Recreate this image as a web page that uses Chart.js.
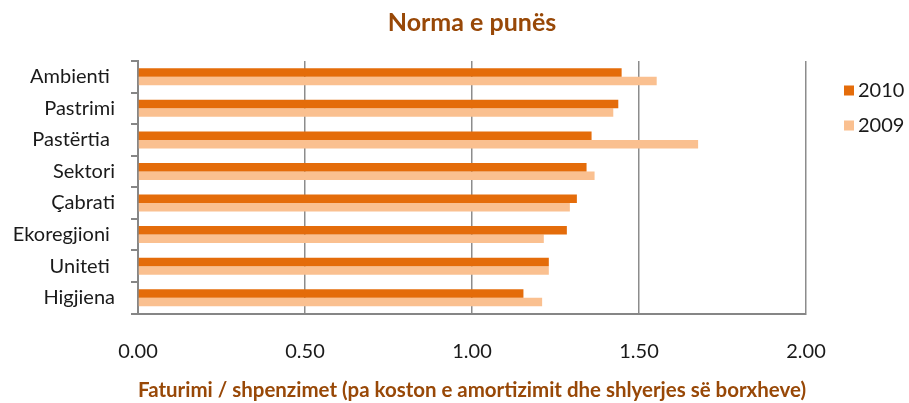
<!DOCTYPE html>
<html>
<head>
<meta charset="utf-8">
<script src="https://cdn.jsdelivr.net/npm/chart.js@4.4.1/dist/chart.umd.min.js"></script>
<style>
    body { margin: 0; background: #ffffff; }
    #wrap { width: 909px; height: 403px; position: relative; }
</style>
</head>
<body>
<div id="wrap"><canvas id="chart-norma"></canvas></div>
<script>
/**
 * Categories, top to bottom.
 * @type {string[]}
 */
const categories = ['Ambienti ', 'Pastrimi', 'Pastërtia ', 'Sektori', 'Çabrati', 'Ekoregjioni ', 'Uniteti ', 'Higjiena'];

const values2010 = [1.448, 1.438, 1.358, 1.343, 1.314, 1.284, 1.230, 1.154];
const values2009 = [1.553, 1.423, 1.677, 1.367, 1.293, 1.215, 1.230, 1.210];

const seriesLabels = ['2010', '2009'];
const xTicks = [0, 0.5, 1, 1.5, 2];

const FONT = 'Lato, "Open Sans", sans-serif';
const BROWN = '#984807';
const AXIS_GREY = '#868686';

/**
 * draws the legend to the right of the plot area
 */
const sideLegend = {
    id: 'sideLegend',
    afterDraw(chart) {
        const ctx = chart.ctx;
        const area = chart.chartArea;
        ctx.save();
        ctx.font = '20px ' + FONT;
        ctx.textBaseline = 'middle';
        ctx.textAlign = 'left';
        chart.data.datasets.forEach(function (ds, i) {
            const y = area.top + 29.5 + i * 35;
            const x = area.right + 38;
            ctx.fillStyle = ds.backgroundColor;
            ctx.fillRect(x, y - 5, 10, 10);
            ctx.fillStyle = '#1a1a1a';
            ctx.fillText(ds.label, x + 14, y);
        });
        ctx.restore();
    }
};

let chart = new Chart(document.getElementById('chart-norma'), {
    type: 'bar',
    data: {
        labels: categories,
        datasets: [{
            label: seriesLabels[0],
            data: values2010,
            backgroundColor: '#E46C0A',
            categoryPercentage: 0.54,
            barPercentage: 1.0
        }, {
            label: seriesLabels[1],
            data: values2009,
            backgroundColor: '#FAC090',
            categoryPercentage: 0.54,
            barPercentage: 1.0
        }]
    },
    options: {
        indexAxis: 'y',
        responsive: true,
        maintainAspectRatio: false,
        animation: false,
        layout: {
            padding: { left: 0, right: 103, top: 0, bottom: 0 }
        },
        plugins: {
            legend: { display: false },
            tooltip: { enabled: false },
            title: {
                display: true,
                text: 'Norma e punës',
                color: BROWN,
                fullSize: false,
                font: { family: FONT, size: 25, weight: 'bold' },
                padding: { top: 8, bottom: 23 }
            }
        },
        scales: {
            x: {
                min: 0,
                max: 2,
                afterBuildTicks: function (scale) {
                    scale.ticks = xTicks.map(function (v) { return { value: v }; });
                },
                afterFit: function (scale) {
                    scale.height = 89.5;
                },
                ticks: {
                    color: '#1a1a1a',
                    padding: 26,
                    font: { family: FONT, size: 20 },
                    callback: function (v) { return Number(v).toFixed(2); }
                },
                grid: {
                    color: '#8c8c8c',
                    lineWidth: 1.5,
                    drawTicks: false
                },
                border: { display: true, color: AXIS_GREY, width: 2 },
                title: {
                    display: true,
                    text: 'Faturimi / shpenzimet (pa koston e amortizimit dhe shlyerjes së borxheve)',
                    color: BROWN,
                    font: { family: FONT, size: 21, weight: 'bold' },
                    padding: { top: 0, bottom: 0 }
                }
            },
            y: {
                afterFit: function (scale) {
                    scale.width = 138;
                },
                ticks: {
                    color: '#1a1a1a',
                    padding: 16,
                    font: { family: FONT, size: 20 }
                },
                grid: {
                    offset: true,
                    drawOnChartArea: false,
                    drawTicks: true,
                    tickLength: 7,
                    color: AXIS_GREY,
                    lineWidth: 2
                },
                border: { display: true, color: AXIS_GREY, width: 2 }
            }
        }
    },
    plugins: [sideLegend]
});
</script>
</body>
</html>
